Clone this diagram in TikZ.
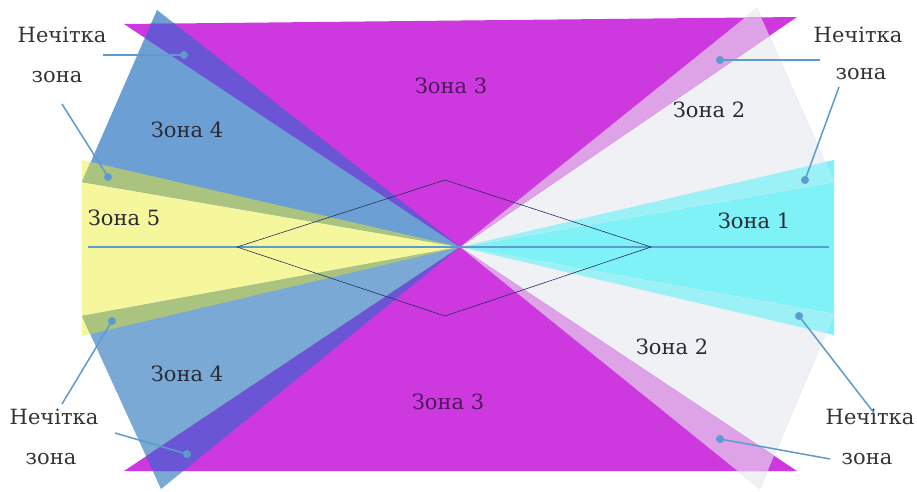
\documentclass[tikz,border=0pt]{standalone}
\usepackage{fontspec}
\setmainfont{DejaVu Serif}
\newfontfamily\zonefont{DejaVu Serif}
\usepackage{xcolor}
\usetikzlibrary{positioning}

\definecolor{zoneMag}{HTML}{CD38DF}
\definecolor{zoneBlueT}{HTML}{6CA0D4}
\definecolor{zoneBlueB}{HTML}{7AA9D6}
\definecolor{zoneYel}{HTML}{F6F69C}
\definecolor{zoneCyan}{HTML}{7FF2F8}
\definecolor{zoneGray}{HTML}{EFF1F5}
\definecolor{fuzzBM}{HTML}{6A56D4}
\definecolor{fuzzGM}{HTML}{DDA3E6}
\definecolor{fuzzBY}{HTML}{AAC47F}
\definecolor{fuzzGC}{HTML}{9CF1F6}
\definecolor{leadBlue}{HTML}{5B9BD0}
\definecolor{zoneText}{HTML}{2A2A36}
\definecolor{magText}{HTML}{4E1760}
\definecolor{rhombLine}{HTML}{23305E}

\begin{document}
\begin{tikzpicture}[
    x=1pt, y=-1pt,
    zonelabel/.style={font=\zonefont\fontsize{21}{21}\selectfont, text=zoneText, anchor=base, inner sep=0pt},
    fuzzylabel/.style={font=\zonefont\fontsize{21}{21}\selectfont, text=black!80, anchor=base, inner sep=0pt},
    leader/.style={draw=leadBlue, line width=1.5pt},
    leaddot/.style={circle, fill=leadBlue, inner sep=0pt, minimum size=8pt},
    axisline/.style={draw=leadBlue, line width=1.8pt},
    rhomb/.style={draw=rhombLine, line width=0.6pt},
]
\useasboundingbox (0,0) rectangle (917,491);

% Apex and zone corners
\coordinate (O) at (460,247);
\coordinate (M1) at (124,24);  \coordinate (M2) at (797,17);
\coordinate (M3) at (124,471); \coordinate (M4) at (797,471);
\coordinate (B1) at (157,10);  \coordinate (B2) at (82,182);
\coordinate (B3) at (82,316);  \coordinate (B4) at (161,489);
\coordinate (Y1) at (82,160);  \coordinate (Y2) at (82,336);
\coordinate (G1) at (757,8);   \coordinate (G2) at (834,182);
\coordinate (G3) at (834,314); \coordinate (G4) at (760,489);
\coordinate (C1) at (834,160); \coordinate (C2) at (834,335);

% Zones
\fill[zoneYel] (O) -- (Y1) -- (Y2) -- cycle;
\fill[zoneCyan] (O) -- (C1) -- (C2) -- cycle;
\fill[zoneBlueT] (O) -- (B1) -- (B2) -- cycle;
\fill[zoneBlueB] (O) -- (B3) -- (B4) -- cycle;
\fill[zoneGray, draw=black!10] (O) -- (G1) -- (G2) -- cycle;
\fill[zoneGray, draw=black!10] (O) -- (G3) -- (G4) -- cycle;
\fill[zoneMag] (O) -- (M1) -- (M2) -- cycle;
\fill[zoneMag] (O) -- (M3) -- (M4) -- cycle;

% Fuzzy zones (overlaps)
\begin{scope}
  \clip (O) -- (M1) -- (M2) -- cycle;
  \fill[fuzzBM] (O) -- (B1) -- (B2) -- cycle;
  \fill[fuzzGM] (O) -- (G1) -- (G2) -- cycle;
\end{scope}
\begin{scope}
  \clip (O) -- (M3) -- (M4) -- cycle;
  \fill[fuzzBM] (O) -- (B3) -- (B4) -- cycle;
  \fill[fuzzGM] (O) -- (G3) -- (G4) -- cycle;
\end{scope}
\begin{scope}
  \clip (O) -- (Y1) -- (Y2) -- cycle;
  \fill[fuzzBY] (O) -- (B1) -- (B2) -- cycle;
  \fill[fuzzBY] (O) -- (B3) -- (B4) -- cycle;
\end{scope}
\begin{scope}
  \clip (O) -- (C1) -- (C2) -- cycle;
  \fill[fuzzGC] (O) -- (G1) -- (G2) -- cycle;
  \fill[fuzzGC] (O) -- (G3) -- (G4) -- cycle;
\end{scope}

% Axis and rhombus
\coordinate (axL) at (88,247);
\coordinate (axR) at (829,247);
\draw[axisline] (axL) -- (axR);
\coordinate (R1) at (237,247); \coordinate (R2) at (445,180);
\coordinate (R3) at (651,247); \coordinate (R4) at (445,316);
\draw[rhomb] (R1) -- (R2) -- (R3) -- (R4) -- cycle;

% Zone labels
\node[zonelabel, text=magText] (z3t) at (451,93) {Зона 3};
\node[zonelabel] (z4t) at (187,137) {Зона 4};
\node[zonelabel] (z5) at (124,225) {Зона 5};
\node[zonelabel] (z2t) at (709,117) {Зона 2};
\node[zonelabel] (z1) at (754,228) {Зона 1};
\node[zonelabel] (z2b) at (672,354) {Зона 2};
\node[zonelabel] (z4b) at (187,381) {Зона 4};
\node[zonelabel, text=magText] (z3b) at (448,409) {Зона 3};

% Fuzzy zone labels
\node[fuzzylabel] (ftlA) at (62,42) {Нечітка};
\node[fuzzylabel] (ftlB) at (57,82) {зона};
\node[fuzzylabel] (ftrA) at (858,42) {Нечітка};
\node[fuzzylabel] (ftrB) at (861,79) {зона};
\node[fuzzylabel] (fblA) at (54,424) {Нечітка};
\node[fuzzylabel] (fblB) at (51,464) {зона};
\node[fuzzylabel] (fbrA) at (870,424) {Нечітка};
\node[fuzzylabel] (fbrB) at (867,464) {зона};

% Leaders
\node[leaddot] (dtl1) at (184,55) {};
\node[leaddot] (dtl2) at (108,177) {};
\node[leaddot] (dtr1) at (720,60) {};
\node[leaddot] (dtr2) at (805,180) {};
\node[leaddot] (dbl1) at (112,321) {};
\node[leaddot] (dbl2) at (187,454) {};
\node[leaddot] (dbr1) at (799,316) {};
\node[leaddot] (dbr2) at (720,439) {};
\coordinate (ltl1) at (103,55);
\coordinate (ltl2) at (62,104);
\coordinate (ltr1) at (820,60);
\coordinate (ltr2) at (839,87);
\coordinate (lbl1) at (62,404);
\coordinate (lbl2) at (115,433);
\coordinate (lbr1) at (874,413);
\coordinate (lbr2) at (830,459);
\draw[leader] (ltl1) -- (dtl1.center);
\draw[leader] (ltl2) -- (dtl2.center);
\draw[leader] (ltr1) -- (dtr1.center);
\draw[leader] (ltr2) -- (dtr2.center);
\draw[leader] (lbl1) -- (dbl1.center);
\draw[leader] (lbl2) -- (dbl2.center);
\draw[leader] (lbr1) -- (dbr1.center);
\draw[leader] (lbr2) -- (dbr2.center);

\end{tikzpicture}
\end{document}
